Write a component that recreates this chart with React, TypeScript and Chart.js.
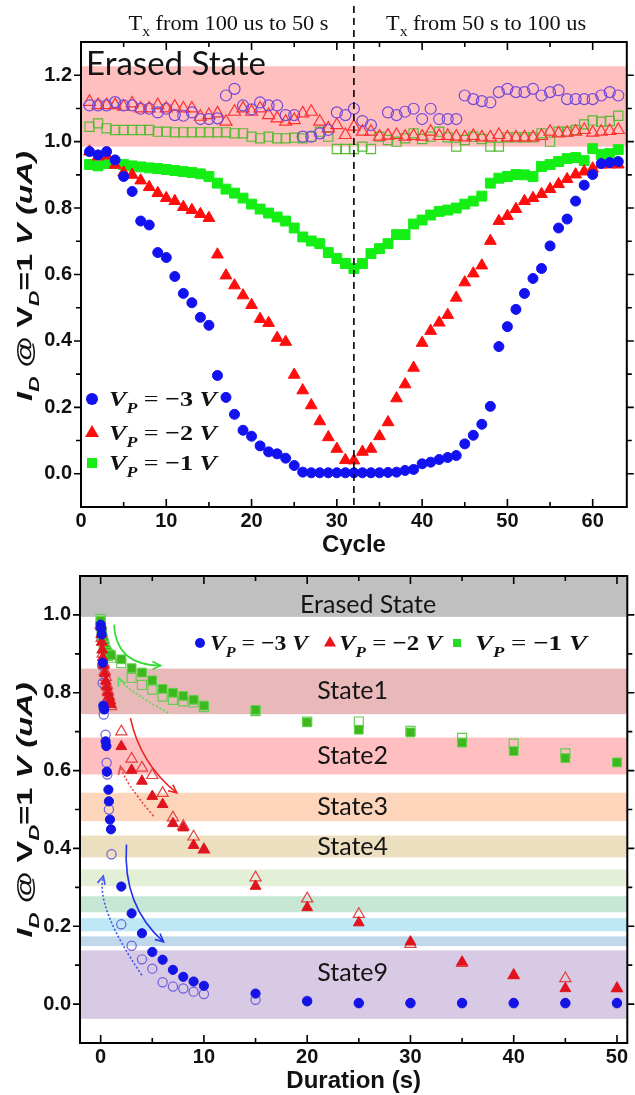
import React, { useEffect, useRef } from 'react';
import { Chart, registerables } from 'chart.js';

Chart.register(...registerables);

// ---------------- Top chart data ----------------
const cycles = [1,2,3,4,5,6,7,8,9,10,11,12,13,14,15,16,17,18,19,20,21,22,23,24,25,26,27,28,29,30,31,32,33,34,35,36,37,38,39,40,41,42,43,44,45,46,47,48,49,50,51,52,53,54,55,56,57,58,59,60,61,62,63];
const topBlueFilled = [0.97,0.96,0.97,0.945,0.895,0.85,0.761,0.749,0.666,0.651,0.594,0.543,0.515,0.471,0.447,0.296,0.23,0.179,0.131,0.113,0.084,0.066,0.06,0.047,0.025,0.005,0.003,0.003,0.003,0.003,0.003,0.003,0.003,0.003,0.003,0.004,0.005,0.01,0.013,0.03,0.035,0.043,0.049,0.055,0.09,0.116,0.149,0.203,0.383,0.443,0.495,0.543,0.588,0.618,0.686,0.74,0.767,0.821,0.869,0.901,0.934,0.937,0.94];
const topRedFilled = [0.97,0.955,0.958,0.93,0.907,0.9,0.883,0.863,0.845,0.83,0.821,0.803,0.794,0.782,0.77,0.66,0.597,0.567,0.537,0.508,0.466,0.454,0.409,0.397,0.298,0.251,0.206,0.158,0.11,0.075,0.041,0.04,0.066,0.075,0.113,0.155,0.227,0.269,0.319,0.394,0.43,0.455,0.478,0.53,0.576,0.603,0.627,0.701,0.761,0.776,0.797,0.821,0.83,0.842,0.857,0.872,0.887,0.901,0.91,0.919,0.931,0.931,0.931];
const topGreenFilled = [0.931,0.927,0.934,0.934,0.931,0.927,0.924,0.921,0.919,0.916,0.913,0.91,0.907,0.903,0.895,0.875,0.857,0.845,0.83,0.812,0.797,0.785,0.773,0.761,0.74,0.713,0.701,0.693,0.666,0.648,0.633,0.618,0.633,0.663,0.678,0.693,0.72,0.72,0.752,0.764,0.779,0.79,0.794,0.8,0.812,0.821,0.836,0.875,0.89,0.895,0.901,0.9,0.895,0.925,0.931,0.94,0.949,0.952,0.943,0.979,0.961,0.964,0.976];
const topPurpleOpen = [1.109,1.109,1.109,1.119,1.109,1.109,1.099,1.099,1.088,1.099,1.08,1.078,1.088,1.068,1.068,1.07,1.139,1.159,1.109,1.097,1.118,1.109,1.109,1.08,1.08,1.015,1.015,1.025,1.035,1.088,1.08,1.099,1.062,1.05,null,1.088,1.08,1.09,1.099,1.068,1.099,1.068,1.068,1.068,1.139,1.128,1.122,1.118,1.149,1.159,1.149,1.149,1.159,1.139,1.149,1.155,1.128,1.128,1.128,1.128,1.139,1.149,1.139];
const topRedOpen = [1.12,1.11,1.11,1.11,1.105,1.115,1.1,1.1,1.11,1.1,1.105,1.1,1.1,1.075,1.08,1.085,1.06,1.09,1.1,1.09,1.1,1.08,1.07,1.06,1.065,1.085,1.09,1.06,1.04,1.05,1.02,1.045,1.03,1.03,1.015,1.018,1.02,1.015,1.017,1.015,1.03,1.017,1.017,1.015,1.013,1.017,1.013,1.013,1.02,1.013,1.013,1.013,1.013,1.017,1.03,1.025,1.027,1.03,1.035,1.027,1.03,1.032,1.035];
const topGreenOpen = [1.045,1.055,1.04,1.035,1.035,1.035,1.035,1.035,1.03,1.03,1.028,1.028,1.028,1.028,1.028,1.028,1.028,1.025,1.025,1.015,1.01,1.015,1.01,1.01,1.012,1.01,1.015,1.03,1.015,0.978,0.978,0.978,0.985,0.978,1.015,1.005,1.0,1.01,1.025,1.008,1.015,1.03,1.013,0.985,1.005,1.015,1.008,0.985,0.985,1.013,1.013,1.013,1.013,1.025,1.0,1.03,1.03,1.035,1.052,1.064,1.06,1.062,1.078];

const topXTicks = [0, 10, 20, 30, 40, 50, 60];
const topXMinor = [5, 15, 25, 35, 45, 55];
const topYTicks = [0, 0.2, 0.4, 0.6, 0.8, 1.0, 1.2];
const topYMinor = [0.1, 0.3, 0.5, 0.7, 0.9, 1.1];
const topBand = [0.985, 1.227];
const splitCycle = 32;
const topHeaders = [' from 100 us to 50 s', ' from 50 s to 100 us'];
const topHeaderX = [17.3, 47.5];
const legendValues = ['\u22123', '\u22122', '\u22121'];

// ---------------- Bottom chart data ----------------
const bBlueFilledX = [0, 0.05, 0.1, 0.2, 0.26, 0.3, 0.35, 0.48, 0.55, 0.6, 0.75, 0.8, 0.9, 1.0, 2, 3, 4, 5, 6, 7, 8, 9, 10, 15, 20, 25, 30, 35, 40, 45, 50];
const bBlueFilledY = [0.975, 0.965, 0.95, 0.877, 0.767, 0.76, 0.757, 0.675, 0.663, 0.597, 0.551, 0.521, 0.474, 0.449, 0.302, 0.233, 0.182, 0.134, 0.114, 0.088, 0.07, 0.058, 0.047, 0.027, 0.007, 0.003, 0.003, 0.003, 0.003, 0.003, 0.003];
const bBlueOpenX = [0, 0.1, 0.15, 0.2, 0.3, 0.48, 0.58, 0.65, 0.8, 1.05, 2, 3, 4, 5, 6, 7, 8, 9, 10, 15, 20, 25, 30, 35, 40, 45, 50];
const bBlueOpenY = [0.98, 0.94, 0.87, 0.825, 0.744, 0.692, 0.62, 0.59, 0.5, 0.385, 0.205, 0.15, 0.115, 0.091, 0.056, 0.045, 0.04, 0.032, 0.026, 0.011, 0.009, 0.002, 0.002, 0.002, 0.002, 0.002, 0.002];
const bRedFilledX = [0, 0.05, 0.1, 0.15, 0.2, 0.3, 0.4, 0.5, 0.6, 0.7, 0.8, 0.9, 1.0, 2, 3, 4, 5, 6, 7, 8, 9, 10, 15, 20, 25, 30, 35, 40, 45, 50];
const bRedFilledY = [0.97, 0.95, 0.93, 0.91, 0.89, 0.87, 0.85, 0.83, 0.815, 0.8, 0.79, 0.78, 0.77, 0.662, 0.601, 0.573, 0.534, 0.513, 0.464, 0.453, 0.408, 0.397, 0.303, 0.248, 0.209, 0.16, 0.108, 0.074, 0.04, 0.04];
const bRedOpenX = [0, 0.1, 0.2, 0.3, 0.4, 0.5, 0.6, 0.7, 0.8, 0.9, 1.0, 2, 3, 4, 5, 6, 7, 8, 9, 10, 15, 20, 25, 30, 35, 40, 45, 50];
const bRedOpenY = [0.975, 0.94, 0.9, 0.875, 0.855, 0.84, 0.82, 0.805, 0.79, 0.78, 0.765, 0.7, 0.63, 0.607, 0.588, 0.542, 0.479, 0.457, 0.43, 0.397, 0.325, 0.271, 0.231, 0.154, 0.105, 0.074, 0.066, 0.04];
const bGreenFilledX = [0, 0.05, 0.1, 0.2, 0.3, 0.4, 0.5, 0.6, 0.8, 1.0, 2, 3, 4, 5, 6, 7, 8, 9, 10, 15, 20, 25, 30, 35, 40, 45, 50];
const bGreenFilledY = [0.985, 0.97, 0.96, 0.94, 0.93, 0.92, 0.91, 0.905, 0.9, 0.897, 0.886, 0.863, 0.852, 0.832, 0.81, 0.8, 0.792, 0.782, 0.767, 0.756, 0.724, 0.705, 0.698, 0.672, 0.65, 0.632, 0.621];
const bGreenOpenX = [0, 0.1, 0.2, 0.3, 0.5, 0.7, 1.0, 2, 3, 4, 5, 6, 7, 8, 9, 10, 15, 20, 25, 30, 35, 40, 45];
const bGreenOpenY = [0.99, 0.955, 0.935, 0.92, 0.905, 0.895, 0.89, 0.876, 0.838, 0.82, 0.808, 0.79, 0.782, 0.778, 0.775, 0.763, 0.753, 0.726, 0.726, 0.702, 0.684, 0.669, 0.644];

const botXTicks = [0, 10, 20, 30, 40, 50];
const botXMinor = [5, 15, 25, 35, 45];
const botYTicks = [0, 0.2, 0.4, 0.6, 0.8, 1.0];
const botYMinor = [0.1, 0.3, 0.5, 0.7, 0.9];

const bandLow = [0.995, 0.745, 0.59, 0.47, 0.377, 0.303, 0.236, 0.187, 0.149, -0.038];
const bandHigh = [1.1, 0.862, 0.685, 0.543, 0.433, 0.346, 0.277, 0.221, 0.174, 0.138];
const bandColors = ['#c0c0c0', '#e9b9ba', '#ffbebf', '#fcd5ba', '#ecdfbf', '#e3efd6', '#c6e7d3', '#bfe8f6', '#bfd8ec', '#d8c9e4'];
const bandNames = ['Erased State', 'State1', 'State2', 'State3', 'State4', 'State9'];
const bandNameX = [25.9, 24.4, 24.4, 24.4, 24.4, 24.4];
const bandNameY = [1.025, 0.8035, 0.6375, 0.506, 0.405, 0.08];

// curved arrows: start, control, end (data space)
const arrowPts = [
  [[1.3, 0.975], [1.5, 0.87], [5.8, 0.87]],
  [[6.55, 0.748], [2.17, 0.813], [1.74, 0.838]],
  [[2.88, 0.735], [3.85, 0.617], [7.37, 0.543]],
  [[5.13, 0.483], [2.23, 0.573], [1.92, 0.611]],
  [[2.5, 0.41], [2.1, 0.253], [6.09, 0.16]],
  [[4.0, 0.074], [-0.53, 0.25], [0.26, 0.329]],
];
const arrowColors = ['#33dd33', '#55dd55', '#ee2222', '#ee4444', '#2233ee', '#4455ee'];
const arrowDashed = [false, true, false, true, false, true];

// ---------------- styles ----------------
const SANS = "'Liberation Sans', Arial, sans-serif";
const SERIF = "'Liberation Serif', 'Times New Roman', serif";
const LATO = "Lato, 'Open Sans', sans-serif";

type Seg = { t: string; f: string; dy?: number };

function segWidth(ctx: CanvasRenderingContext2D, segs: Seg[]) {
  let w = 0;
  for (const s of segs) { ctx.font = s.f; w += ctx.measureText(s.t).width; }
  return w;
}
function drawSegs(ctx: CanvasRenderingContext2D, segs: Seg[], x: number, y: number, align: string, target?: number) {
  const w = segWidth(ctx, segs);
  const k = target ? target / w : 1;
  ctx.save();
  ctx.translate(x, y);
  ctx.scale(k, 1);
  ctx.textAlign = 'left';
  ctx.textBaseline = 'alphabetic';
  let cx = align === 'center' ? -w / 2 : 0;
  for (const s of segs) {
    ctx.font = s.f;
    ctx.fillText(s.t, cx, s.dy || 0);
    cx += ctx.measureText(s.t).width;
  }
  ctx.restore();
}
function vpSegs(val: string, size: number): Seg[] {
  return [
    { t: 'V', f: `italic bold ${size}px ${SERIF}` },
    { t: 'P', f: `italic bold ${Math.round(size * 0.68)}px ${SERIF}`, dy: size * 0.3 },
    { t: ' = ', f: `${size}px ${SERIF}` },
    { t: `${val} `, f: `bold ${size}px ${SERIF}` },
    { t: 'V', f: `italic bold ${size}px ${SERIF}` },
  ];
}
function yTitleSegs(size: number): Seg[] {
  const s = Math.round(size * 0.68);
  return [
    { t: 'I', f: `italic bold ${size}px ${SANS}` },
    { t: 'D', f: `italic bold ${s}px ${SANS}`, dy: size * 0.3 },
    { t: ' @ ', f: `bold ${size}px ${SANS}` },
    { t: 'V', f: `bold ${size}px ${SANS}` },
    { t: 'D', f: `italic bold ${s}px ${SANS}`, dy: size * 0.3 },
    { t: '=1 ', f: `bold ${size}px ${SANS}` },
    { t: 'V (uA)', f: `italic bold ${size}px ${SANS}` },
  ];
}
function marker(ctx: CanvasRenderingContext2D, style: string, cx: number, cy: number, r: number, color: string) {
  ctx.fillStyle = color;
  ctx.beginPath();
  if (style === 'circle') ctx.arc(cx, cy, r, 0, Math.PI * 2);
  else if (style === 'triangle') {
    ctx.moveTo(cx, cy - r);
    ctx.lineTo(cx + r * 0.866, cy + r * 0.5);
    ctx.lineTo(cx - r * 0.866, cy + r * 0.5);
    ctx.closePath();
  } else ctx.rect(cx - r, cy - r, 2 * r, 2 * r);
  ctx.fill();
}
function drawFrame(chart: any, xMaj: number[], xMin: number[], yMaj: number[], yMin: number[]) {
  const { ctx, chartArea: a, scales: { x, y } } = chart;
  ctx.save();
  ctx.strokeStyle = '#000';
  ctx.lineWidth = 2;
  ctx.strokeRect(a.left, a.top, a.right - a.left, a.bottom - a.top);
  ctx.lineWidth = 1.6;
  ctx.beginPath();
  const xt = (v: number, L: number) => {
    const p = x.getPixelForValue(v);
    ctx.moveTo(p, a.bottom); ctx.lineTo(p, a.bottom - L);
    ctx.moveTo(p, a.top); ctx.lineTo(p, a.top + L);
  };
  const yt = (v: number, L: number) => {
    const p = y.getPixelForValue(v);
    ctx.moveTo(a.left, p); ctx.lineTo(a.left - L, p);
    ctx.moveTo(a.right, p); ctx.lineTo(a.right + L, p);
  };
  xMaj.forEach((v) => xt(v, 8));
  xMin.forEach((v) => xt(v, 5));
  yMaj.forEach((v) => yt(v, 7));
  yMin.forEach((v) => yt(v, 5));
  ctx.stroke();
  ctx.restore();
}
function pts(xs: number[], ys: (number | null)[]) {
  const out: { x: number; y: number }[] = [];
  for (let i = 0; i < xs.length; i++) if (ys[i] != null) out.push({ x: xs[i], y: ys[i] as number });
  return out;
}
function ds(label: string, data: any[], style: string, r: number, fill: string, stroke: string, bw: number) {
  return {
    label, data, pointStyle: style, pointRadius: r, pointHoverRadius: r,
    backgroundColor: fill, borderColor: stroke, pointBackgroundColor: fill, pointBorderColor: stroke,
    pointBorderWidth: bw, borderWidth: bw, showLine: false,
  };
}
function scaleOpts(min: number, max: number, ticks: number[], fmt: (v: number) => string, fit: (s: any) => void, pad: number) {
  return {
    type: 'linear', min, max,
    grid: { display: false, drawTicks: false },
    border: { display: false },
    ticks: { font: { family: SANS, weight: 'bold', size: 20 }, color: '#111', padding: pad, autoSkip: false, maxRotation: 0, callback: (v: any) => fmt(Number(v)) },
    afterBuildTicks: (s: any) => { s.ticks = ticks.map((v) => ({ value: v })); },
    afterFit: fit,
  };
}

const BLUE = '#1212f0', RED = '#ff0d0d', GREEN = '#14ee14';

function topConfig(): any {
  const plugin = {
    id: 'topDecor',
    beforeDatasetsDraw(chart: any) {
      const { ctx, chartArea: a, scales: { x, y } } = chart;
      ctx.save();
      ctx.fillStyle = '#ffbfbf';
      const y1 = y.getPixelForValue(topBand[1]);
      const y0 = y.getPixelForValue(topBand[0]);
      ctx.fillRect(a.left, y1, a.right - a.left, y0 - y1);
      ctx.fillStyle = '#141414';
      ctx.font = `33px ${LATO}`;
      ctx.textAlign = 'left';
      ctx.textBaseline = 'alphabetic';
      ctx.fillText('Erased State', x.getPixelForValue(0.6), y.getPixelForValue(1.2), 190);
      ctx.restore();
    },
    afterDatasetsDraw(chart: any) {
      const { ctx, chartArea: a, scales: { x, y } } = chart;
      drawFrame(chart, topXTicks, topXMinor, topYTicks, topYMinor);
      ctx.save();
      // dashed separator
      ctx.strokeStyle = '#000';
      ctx.lineWidth = 1.6;
      ctx.setLineDash([7, 5]);
      ctx.beginPath();
      const px = x.getPixelForValue(splitCycle);
      ctx.moveTo(px, 6);
      ctx.lineTo(px, a.bottom);
      ctx.stroke();
      ctx.setLineDash([]);
      // headers
      ctx.fillStyle = '#111';
      topHeaders.forEach((h, i) => {
        drawSegs(ctx, [
          { t: 'T', f: `20px ${SERIF}` },
          { t: 'x', f: `14px ${SERIF}`, dy: 6 },
          { t: h, f: `20px ${SERIF}` },
        ], x.getPixelForValue(topHeaderX[i]), 30, 'center', 200);
      });
      // legend
      const rows = [399, 433, 463];
      const styles = ['circle', 'triangle', 'rect'];
      const cols = [BLUE, RED, GREEN];
      const rs = [6, 8, 5];
      rows.forEach((ry, i) => {
        marker(ctx, styles[i], 92, ry, rs[i], cols[i]);
        ctx.fillStyle = '#111';
        drawSegs(ctx, vpSegs(legendValues[i], 22), 109, ry + 7, 'left', 108);
      });
      // axis titles
      ctx.fillStyle = '#111';
      drawSegs(ctx, [{ t: 'Cycle', f: `bold 24px ${SANS}` }], (a.left + a.right) / 2, 552, 'center');
      ctx.save();
      ctx.translate(32, 276);
      ctx.rotate(-Math.PI / 2);
      drawSegs(ctx, yTitleSegs(22), 0, 0, 'center', 250);
      ctx.restore();
      ctx.restore();
    },
  };
  return {
    type: 'scatter',
    data: {
      datasets: [
        ds('VP=-3 V', pts(cycles, topBlueFilled), 'circle', 5, BLUE, BLUE, 1),
        ds('VP=-2 V', pts(cycles, topRedFilled), 'triangle', 6.8, RED, RED, 1),
        ds('VP=-1 V', pts(cycles, topGreenFilled), 'rect', 7, GREEN, GREEN, 1),
        ds('VP=-3 V erased', pts(cycles, topPurpleOpen), 'circle', 5.5, 'rgba(0,0,0,0)', '#7448d8', 1.2),
        ds('VP=-2 V erased', pts(cycles, topRedOpen), 'triangle', 7, 'rgba(0,0,0,0)', '#ff3030', 1.2),
        ds('VP=-1 V erased', pts(cycles, topGreenOpen), 'rect', 6.5, 'rgba(0,0,0,0)', '#58bb35', 1.2),
      ],
    },
    options: {
      animation: false, responsive: false, maintainAspectRatio: false,
      layout: { padding: { top: 42, right: 7, left: 0, bottom: 0 } },
      plugins: { legend: { display: false }, tooltip: { enabled: false } },
      scales: {
        x: scaleOpts(0, 64, topXTicks, (v) => String(v), (s: any) => { s.height = 48; }, 2),
        y: scaleOpts(-0.1, 1.3, topYTicks, (v) => v.toFixed(1), (s: any) => { s.width = 81; }, 9),
      },
    },
    plugins: [plugin],
  };
}

function botConfig(): any {
  const plugin = {
    id: 'botDecor',
    beforeDatasetsDraw(chart: any) {
      const { ctx, chartArea: a, scales: { x, y } } = chart;
      ctx.save();
      bandColors.forEach((c, i) => {
        const y1 = y.getPixelForValue(bandHigh[i]);
        const y0 = y.getPixelForValue(bandLow[i]);
        ctx.fillStyle = c;
        ctx.fillRect(a.left, y1, a.right - a.left, y0 - y1);
      });
      ctx.fillStyle = '#141414';
      ctx.textAlign = 'center';
      ctx.textBaseline = 'middle';
      bandNames.forEach((n, i) => {
        ctx.font = `25px ${LATO}`;
        ctx.fillText(n, x.getPixelForValue(bandNameX[i]), y.getPixelForValue(bandNameY[i]), i === 0 ? 140 : 72);
      });
      ctx.restore();
    },
    afterDatasetsDraw(chart: any) {
      const { ctx, chartArea: a, scales: { x, y } } = chart;
      ctx.save();
      // arrows
      arrowPts.forEach((ap, i) => {
        const P = ap.map(([u, v]) => [x.getPixelForValue(u), y.getPixelForValue(v)]);
        ctx.strokeStyle = arrowColors[i];
        ctx.lineWidth = 1.6;
        ctx.setLineDash(arrowDashed[i] ? [2, 2] : []);
        ctx.beginPath();
        ctx.moveTo(P[0][0], P[0][1]);
        ctx.quadraticCurveTo(P[1][0], P[1][1], P[2][0], P[2][1]);
        ctx.stroke();
        ctx.setLineDash([]);
        const ang = Math.atan2(P[2][1] - P[1][1], P[2][0] - P[1][0]);
        const L = 9, sp = 0.45;
        ctx.beginPath();
        ctx.moveTo(P[2][0] - L * Math.cos(ang - sp), P[2][1] - L * Math.sin(ang - sp));
        ctx.lineTo(P[2][0], P[2][1]);
        ctx.lineTo(P[2][0] - L * Math.cos(ang + sp), P[2][1] - L * Math.sin(ang + sp));
        ctx.stroke();
      });
      ctx.restore();
      drawFrame(chart, botXTicks, botXMinor, botYTicks, botYMinor);
      ctx.save();
      // legend
      const mx = [200, 330, 457];
      const tx = [210, 339, 475];
      const tw = [98, 103, 112];
      const styles = ['circle', 'triangle', 'rect'];
      const cols = ['#1414e6', '#e8141e', '#22dd22'];
      const rs = [5, 7, 4];
      mx.forEach((m, i) => {
        marker(ctx, styles[i], m, 88, rs[i], cols[i]);
        ctx.fillStyle = '#111';
        drawSegs(ctx, vpSegs(legendValues[i], 22), tx[i], 95, 'left', tw[i]);
      });
      ctx.fillStyle = '#111';
      drawSegs(ctx, [{ t: 'Duration (s)', f: `bold 24px ${SANS}` }], (a.left + a.right) / 2, 533, 'center');
      ctx.save();
      ctx.translate(32, 255);
      ctx.rotate(-Math.PI / 2);
      drawSegs(ctx, yTitleSegs(22), 0, 0, 'center', 255);
      ctx.restore();
      ctx.restore();
    },
  };
  return {
    type: 'scatter',
    data: {
      datasets: [
        ds('VP=-3 V', pts(bBlueFilledX, bBlueFilledY), 'circle', 4.6, '#1414e6', '#1414e6', 1),
        ds('VP=-2 V', pts(bRedFilledX, bRedFilledY), 'triangle', 6.2, '#e0141e', '#e0141e', 1),
        ds('VP=-1 V', pts(bGreenFilledX, bGreenFilledY), 'rect', 6.2, '#3cb81c', '#5fd24a', 1),
        ds('VP=-3 V recover', pts(bBlueOpenX, bBlueOpenY), 'circle', 4.6, 'rgba(0,0,0,0)', '#6c5ee0', 1.2),
        ds('VP=-2 V recover', pts(bRedOpenX, bRedOpenY), 'triangle', 6.5, 'rgba(0,0,0,0)', '#e84040', 1.2),
        ds('VP=-1 V recover', pts(bGreenOpenX, bGreenOpenY), 'rect', 6.4, 'rgba(0,0,0,0)', '#66cc55', 1.2),
      ],
    },
    options: {
      animation: false, responsive: false, maintainAspectRatio: false,
      layout: { padding: { top: 20, right: 7, left: 0, bottom: 0 } },
      plugins: { legend: { display: false }, tooltip: { enabled: false } },
      scales: {
        x: scaleOpts(-2, 51, botXTicks, (v) => String(v), (s: any) => { s.height = 52; }, 2),
        y: scaleOpts(-0.1, 1.1, botYTicks, (v) => v.toFixed(1), (s: any) => { s.width = 80; }, 9),
      },
    },
    plugins: [plugin],
  };
}

export default function App() {
  const topRef = useRef<HTMLCanvasElement>(null);
  const botRef = useRef<HTMLCanvasElement>(null);
  useEffect(() => {
    const c1 = new Chart(topRef.current as HTMLCanvasElement, topConfig());
    const c2 = new Chart(botRef.current as HTMLCanvasElement, botConfig());
    return () => { c1.destroy(); c2.destroy(); };
  }, []);
  return (
    <div style={{ position: 'absolute', left: 0, top: 0, width: 635, height: 1095, background: '#fff' }}>
      <canvas ref={topRef} width={635} height={555} style={{ display: 'block', width: 635, height: 555 }} />
      <canvas ref={botRef} width={635} height={540} style={{ display: 'block', width: 635, height: 540 }} />
    </div>
  );
}
